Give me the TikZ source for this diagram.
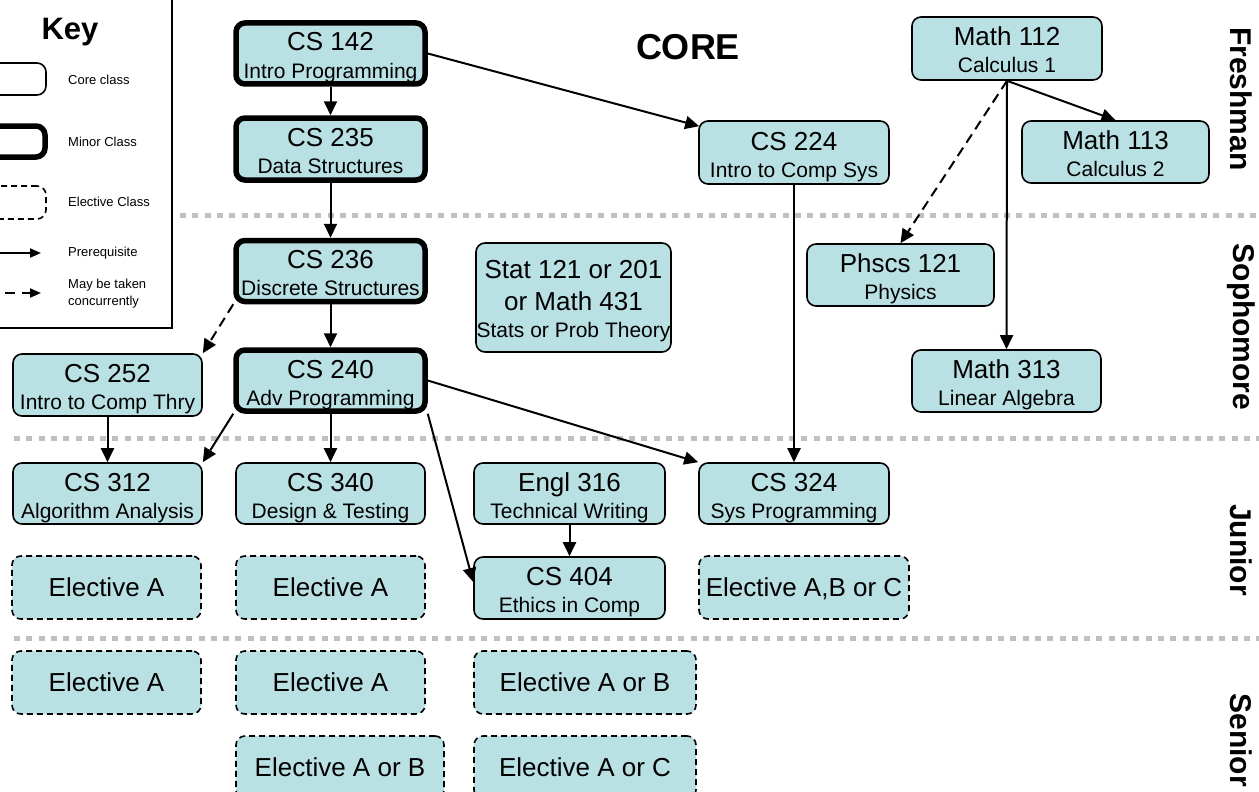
\documentclass[tikz,border=0pt]{standalone}
\usepackage{fontspec}
\setmainfont{Liberation Sans}
\usetikzlibrary{arrows.meta,calc}
\definecolor{boxfill}{HTML}{B9E0E3}
\definecolor{rulegray}{HTML}{C0C0C0}
\tikzset{
  course/.style={draw=black, line width=1.6pt, fill=boxfill, rounded corners=9pt, inner sep=0pt},
  minorc/.style={course, line width=5.5pt},
  elective/.style={course, dash pattern=on 6pt off 4pt},
  titletext/.style={anchor=base, font=\fontsize{26}{30}\selectfont, inner sep=0pt},
  subtext/.style={anchor=base, font=\fontsize{21}{25}\selectfont, inner sep=0pt},
  eltext/.style={font=\fontsize{26}{30}\selectfont, text height=18.7pt, text depth=0pt},
  conn/.style={line width=2pt, -{Triangle[length=14pt,width=13pt]}},
  connc/.style={conn, dash pattern=on 10pt off 6pt},
  keyconn/.style={line width=2pt, -{Triangle[length=11pt,width=9pt]}},
  keyconnc/.style={keyconn, dash pattern=on 10pt off 7pt},
  keytext/.style={anchor=west, font=\fontsize{13}{17}\selectfont, align=left, inner sep=0pt},
  yearline/.style={rulegray, line width=5pt, dash pattern=on 6pt off 6.3pt},
  yearlabel/.style={rotate=-90, font=\fontsize{30}{34}\selectfont\bfseries, inner sep=0pt},
}
\newcommand{\coursebox}[8]{%
  \node[#1, minimum width=#5, minimum height=#6] (#2) at (#3,#4) {};
  \node[titletext] (#2-t) at ($(#2.center)+(0,-2.5)$) {#7};
  \node[subtext] (#2-s) at ($(#2.center)+(0,24.5)$) {#8};
}
\begin{document}
\begin{tikzpicture}[x=1pt, y=-1pt]
\useasboundingbox (0,0) rectangle (1259,792);
\clip (0,0) rectangle (1259,792);

% year separators
\draw[yearline] (180,215) -- (1259,215);
\draw[yearline] (14,438) -- (1259,438);
\draw[yearline] (14,638) -- (1259,638);

% key
\node[draw, line width=2.5pt, inner sep=0pt, minimum width=192pt, minimum height=348pt] (keybox) at (76,154) {};
\node[font=\fontsize{31}{34}\selectfont\bfseries, inner sep=0pt] (keytitle) at (70,32) {Key};
\node[course, fill=white, minimum width=76pt, minimum height=32pt] (kcore) at (8,79) {};
\node[minorc, fill=white, minimum width=75pt, minimum height=31pt] (kminor) at (7.5,141.5) {};
\node[elective, fill=white, minimum width=76pt, minimum height=33pt] (kelect) at (8,202.5) {};
\node[keytext] (kl1) at (68,80) {Core class};
\node[keytext] (kl2) at (68,142) {Minor Class};
\node[keytext] (kl3) at (68,202) {Elective Class};
\node[keytext] (kl4) at (68,253) {Prerequisite};
\node[keytext] (kl5) at (68,293.5) {May be taken\\concurrently};
\coordinate (ka1) at (-10,253);
\coordinate (kb1) at (41,253);
\coordinate (ka2) at (5,293);
\coordinate (kb2) at (41,293);
\draw[keyconn] (ka1) -- (kb1);
\draw[keyconnc] (ka2) -- (kb2);

% title
\node[font=\fontsize{36}{40}\selectfont\bfseries, inner sep=0pt] (core) at (688,47) {CORE};

% year labels
\node[yearlabel] (fresh) at (1241,99) {Freshman};
\node[yearlabel] (soph) at (1241,327) {Sophomore};
\node[yearlabel] (jun) at (1241,550) {Junior};
\node[yearlabel] (sen) at (1241,740) {Senior};

% courses
\coursebox{minorc}{cs142}{330.5}{53.5}{189pt}{61pt}{CS 142}{Intro Programming}
\coursebox{minorc}{cs235}{330.5}{149}{189pt}{62pt}{CS 235}{Data Structures}
\coursebox{minorc}{cs236}{330.5}{271}{189pt}{61pt}{CS 236}{Discrete Structures}
\coursebox{minorc}{cs240}{330.5}{380.5}{189pt}{61pt}{CS 240}{Adv Programming}
\coursebox{course}{cs252}{107.5}{385}{189pt}{62pt}{CS 252}{Intro to Comp Thry}
\coursebox{course}{cs312}{107.5}{493.5}{189pt}{61pt}{CS 312}{Algorithm Analysis}
\coursebox{course}{cs340}{330.5}{493.5}{189pt}{61pt}{CS 340}{Design \& Testing}
\coursebox{course}{engl}{569.5}{493.5}{191pt}{61pt}{Engl 316}{Technical Writing}
\coursebox{course}{cs404}{569.5}{588}{191pt}{62pt}{CS 404}{Ethics in Comp}
\coursebox{course}{cs324}{794}{493.5}{190pt}{61pt}{CS 324}{Sys Programming}
\coursebox{course}{cs224}{794}{152.5}{190pt}{63pt}{CS 224}{Intro to Comp Sys}
\coursebox{course}{math112}{1007}{48.5}{190pt}{63pt}{Math 112}{Calculus 1}
\coursebox{course}{math113}{1115.5}{152}{187pt}{62pt}{Math 113}{Calculus 2}
\coursebox{course}{phscs}{900.5}{275}{187pt}{62pt}{Phscs 121}{Physics}
\coursebox{course}{math313}{1006.5}{381}{189pt}{62pt}{Math 313}{Linear Algebra}

\node[course, minimum width=195pt, minimum height=109pt] (stat) at (573.5,297.5) {};
\node[titletext] (stat-a) at ($(stat.center)+(0,-19.5)$) {Stat 121 or 201};
\node[titletext] (stat-b) at ($(stat.center)+(0,12.5)$) {or Math 431};
\node[subtext] (stat-c) at ($(stat.center)+(0,39.5)$) {Stats or Prob Theory};

% electives
\node[elective, eltext, minimum width=189pt, minimum height=63pt] (ejA1) at (106.5,587.5) {Elective A};
\node[elective, eltext, minimum width=189pt, minimum height=63pt] (ejA2) at (330.5,587.5) {Elective A};
\node[elective, eltext, minimum width=210pt, minimum height=63pt] (ejABC) at (804,587.5) {Elective A,B or C};
\node[elective, eltext, minimum width=189pt, minimum height=63pt] (esA1) at (106.5,682.5) {Elective A};
\node[elective, eltext, minimum width=189pt, minimum height=63pt] (esA2) at (330.5,682.5) {Elective A};
\node[elective, eltext, minimum width=222pt, minimum height=63pt] (esAB3) at (585,682.5) {Elective A or B};
\node[elective, eltext, minimum width=208pt, minimum height=63pt] (esAB2) at (340,767.5) {Elective A or B};
\node[elective, eltext, minimum width=222pt, minimum height=63pt] (esAC3) at (585,767.5) {Elective A or C};

% connectors
\draw[conn] (cs142.south) -- (cs235.north);
\draw[conn] (cs142.east) -- ($(cs224.north west)+(1,6)$);
\draw[conn] (cs235.south) -- (cs236.north);
\draw[conn] (cs236.south) -- (cs240.north);
\draw[connc] (cs236.south west) -- (cs252.north east);
\draw[conn] (cs252.south) -- (cs312.north);
\draw[conn] (cs240.south west) -- (cs312.north east);
\draw[conn] (cs240.south) -- (cs340.north);
\draw[conn] (cs240.south east) -- ($(cs404.west)+(0,-6)$);
\draw[conn] (cs240.east) -- (cs324.north west);
\draw[conn] (cs224.south) -- (cs324.north);
\draw[conn] (engl.south) -- (cs404.north);
\draw[conn] (math112.south) -- (math113.north);
\draw[connc] (math112.south) -- (phscs.north);
\draw[conn] (math112.south) -- (math313.north);
\end{tikzpicture}
\end{document}
